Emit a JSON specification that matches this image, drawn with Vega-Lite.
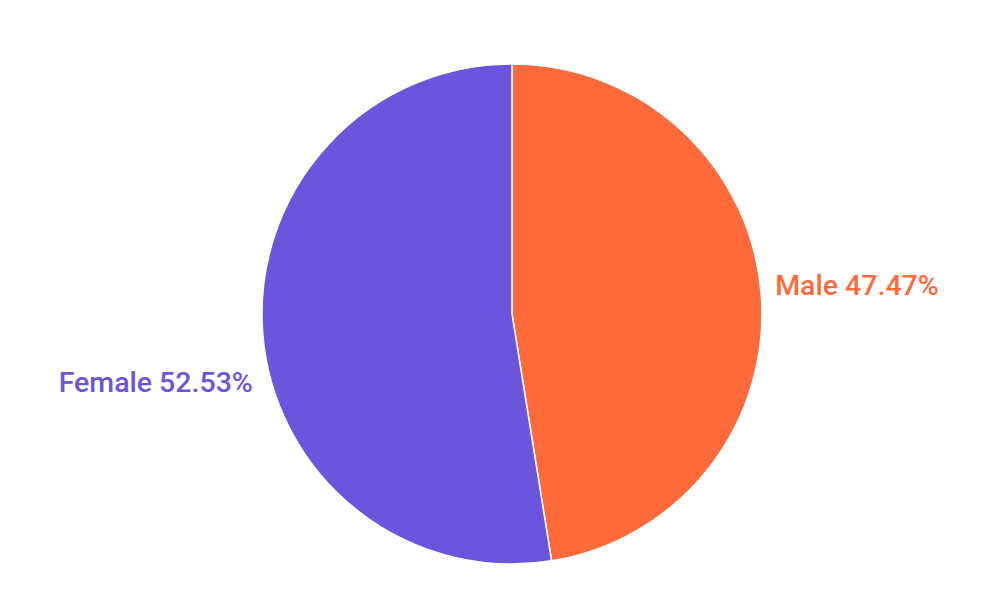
{
  "$schema": "https://vega.github.io/schema/vega-lite/v6.json",
  "description": "Pie chart of gender split",
  "width": 1000,
  "height": 612,
  "autosize": {"type": "fit", "contains": "padding"},
  "padding": {"left": 24, "right": 0, "top": 16, "bottom": 0},
  "background": "white",
  "view": {"stroke": null},
  "data": {
    "values": [
      {"gender": "Male", "share": 47.47, "label": "Male 47.47%"},
      {"gender": "Female", "share": 52.53, "label": "Female 52.53%"}
    ]
  },
  "encoding": {
    "theta": {"field": "share", "type": "quantitative", "stack": true},
    "order": {"field": "gender", "sort": "descending"},
    "color": {
      "field": "gender",
      "type": "nominal",
      "legend": null,
      "scale": {"domain": ["Male", "Female"], "range": ["#FF6A3A", "#6B55DC"]}
    }
  },
  "layer": [
    {
      "mark": {"type": "arc", "outerRadius": 250, "stroke": "white", "strokeWidth": 1.5}
    },
    {
      "mark": {"type": "text", "radius": 264, "align": "left", "baseline": "middle", "dy": -7, "font": "Roboto", "fontSize": 28.5, "fontWeight": 500},
      "encoding": {"text": {"condition": {"test": "datum.gender == 'Male'", "field": "label"}, "value": ""}}
    },
    {
      "mark": {"type": "text", "radius": 260, "align": "right", "baseline": "middle", "dy": 48, "font": "Roboto", "fontSize": 28.5, "fontWeight": 500},
      "encoding": {"text": {"condition": {"test": "datum.gender == 'Female'", "field": "label"}, "value": ""}}
    }
  ]
}
